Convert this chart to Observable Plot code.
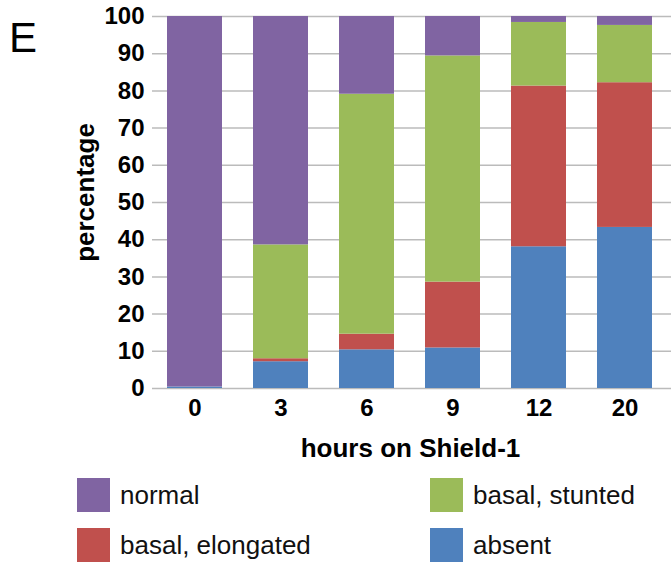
<!DOCTYPE html>
<html>
<head>
<meta charset="utf-8">
<script src="https://cdn.jsdelivr.net/npm/d3@7"></script>
<script src="https://cdn.jsdelivr.net/npm/@observablehq/plot@0.6"></script>
<style>
  body { margin: 0; background: #fff; font-family: "Liberation Sans", Arial, sans-serif; }
  #wrap { position: relative; width: 671px; height: 563px; }
  #panel { position: absolute; left: 9px; top: 17px; font-size: 42px; line-height: 1; color: #000; }
  .leg { position: absolute; display: flex; align-items: center; font-size: 26px; color: #111; }
  .sw { width: 33px; height: 34px; margin-right: 10px; }
</style>
</head>
<body>
<div id="wrap">
  <div id="chart"></div>
  <div id="panel">E</div>
  <div id="legend"></div>
</div>
<script>
const hours = ["0", "3", "6", "9", "12", "20"];
const categories = ["absent", "basal, elongated", "basal, stunted", "normal"];
const colors = ["#4F81BD", "#C0504D", "#9BBB59", "#8064A2"];
const absent    = [0.4, 7.2, 10.4, 10.9, 38.1, 43.3];
const elongated = [0.0, 0.8, 4.2, 17.7, 43.2, 38.9];
const stunted   = [0.0, 30.6, 64.5, 60.8, 17.1, 15.4];
const normal    = [99.6, 61.4, 20.9, 10.6, 1.6, 2.4];
const yTicks = [0, 10, 20, 30, 40, 50, 60, 70, 80, 90, 100];

const series = [absent, elongated, stunted, normal];
const data = [];
hours.forEach((h, i) => {
  categories.forEach((c, k) => data.push({hour: h, category: c, value: series[k][i]}));
});

const chart = Plot.plot({
  width: 671,
  height: 470,
  marginTop: 16,
  marginBottom: 82,
  marginLeft: 152,
  marginRight: 3,
  style: {fontFamily: "Liberation Sans, Arial, sans-serif", background: "#fff"},
  x: {domain: hours, paddingInner: 0.36, paddingOuter: 0.18, label: null},
  y: {domain: [0, 100], label: null},
  color: {domain: categories, range: colors},
  marks: [
    Plot.ruleY(yTicks, {stroke: "#bbb", strokeWidth: 1.5, insetRight: -3}),
    Plot.ruleX([0], {frameAnchor: "left", stroke: "#bbb", strokeWidth: 1.5}),
    Plot.barY(data, {x: "hour", y: "value", fill: "category", order: categories, inset: 0}),
    Plot.axisY({ticks: yTicks, tickSize: 0, tickPadding: 8, fontSize: 24, fontWeight: "bold", fill: "#000", label: null}),
    Plot.axisX({tickSize: 0, tickPadding: 10, fontSize: 24, fontWeight: "bold", fill: "#000", label: null}),
    Plot.text(["hours on Shield-1"], {frameAnchor: "bottom", dy: 60, fontSize: 26, fontWeight: "bold", fill: "#000", lineAnchor: "middle"}),
    Plot.text(["percentage"], {frameAnchor: "left", textAnchor: "middle", dx: -67, dy: -10, rotate: -90, fontSize: 26, fontWeight: "bold", fill: "#000"})
  ]
});
document.getElementById("chart").appendChild(chart);

const legendItems = [
  {label: "normal", color: colors[3], left: 77, top: 478},
  {label: "basal, stunted", color: colors[2], left: 430, top: 478},
  {label: "basal, elongated", color: colors[1], left: 77, top: 528},
  {label: "absent", color: colors[0], left: 430, top: 528}
];
const leg = document.getElementById("legend");
legendItems.forEach(d => {
  const el = document.createElement("div");
  el.className = "leg";
  el.style.left = d.left + "px";
  el.style.top = d.top + "px";
  el.innerHTML = `<div class="sw" style="background:${d.color}"></div><span>${d.label}</span>`;
  leg.appendChild(el);
});
</script>
</body>
</html>
